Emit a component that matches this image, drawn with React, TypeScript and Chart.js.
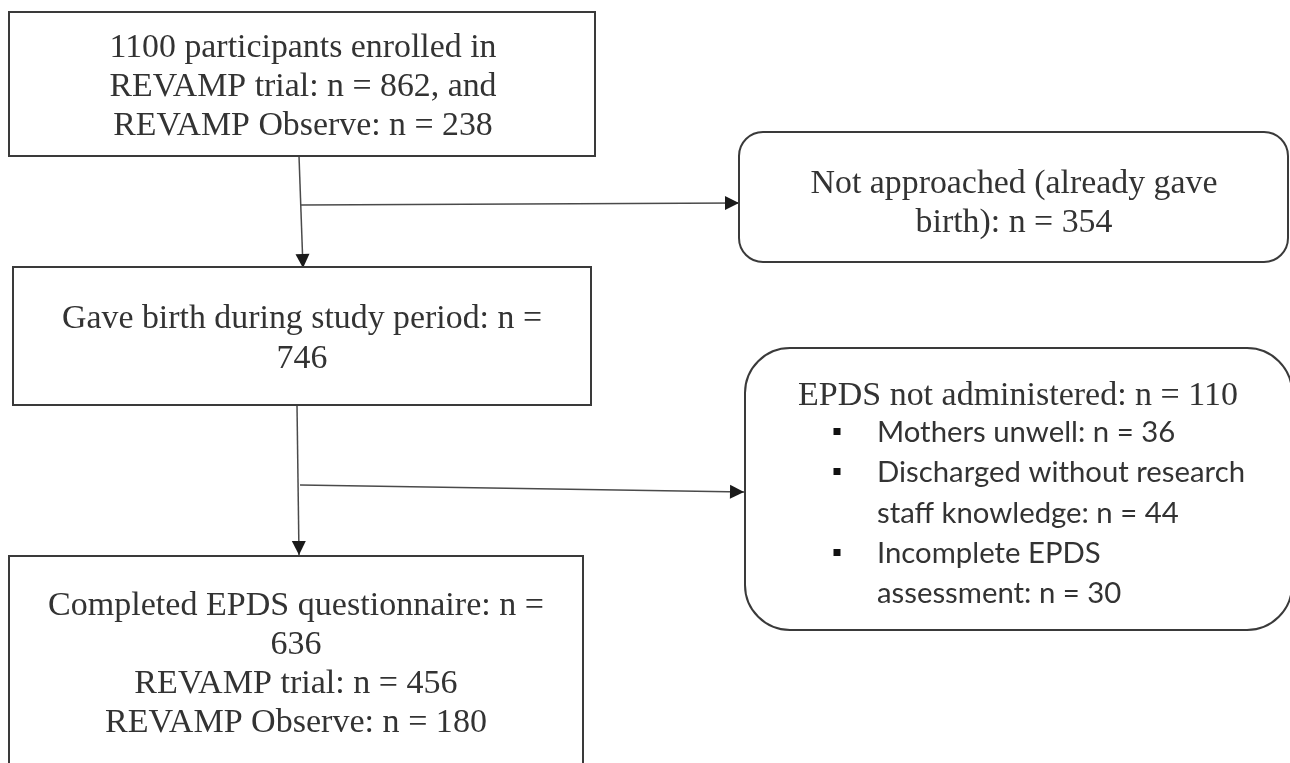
import React, { useEffect, useRef } from "react";
import { Chart, registerables } from "chart.js";

Chart.register(...registerables);

// ---- content ----
const enrolledLines = ["1100 participants enrolled in", "REVAMP trial: n = 862, and", "REVAMP Observe: n = 238"];
const notApproachedLines = ["Not approached (already gave", "birth): n = 354"];
const gaveBirthLines = ["Gave birth during study period: n =", "746"];
const notAdministeredTitle = ["EPDS not administered: n = 110"];
const notAdministeredReasons = [
  ["Mothers unwell: n = 36"],
  ["Discharged without research", "staff knowledge: n = 44"],
  ["Incomplete EPDS", "assessment: n = 30"],
];
const completedLines = ["Completed EPDS questionnaire: n =", "636", "REVAMP trial: n = 456", "REVAMP Observe: n = 180"];

// ---- layout (diagram coordinates on the hidden linear scales) ----
type Box = {
  x0: number; y0: number; x1: number; y1: number; r: number;
  lines: string[]; cx: number; base: number; step: number; fit: number;
};
const boxes: Box[] = [
  { x0: 9, y0: 12, x1: 595, y1: 156, r: 0, lines: enrolledLines, cx: 303, base: 57, step: 39, fit: 387 },
  { x0: 739, y0: 132, x1: 1288, y1: 262, r: 24, lines: notApproachedLines, cx: 1014, base: 193, step: 39, fit: 407 },
  { x0: 13, y0: 267, x1: 591, y1: 405, r: 0, lines: gaveBirthLines, cx: 302, base: 328, step: 40, fit: 480 },
  { x0: 745, y0: 348, x1: 1292, y1: 630, r: 45, lines: notAdministeredTitle, cx: 1018, base: 405, step: 40, fit: 440 },
  { x0: 9, y0: 556, x1: 583, y1: 820, r: 0, lines: completedLines, cx: 296, base: 615, step: 39, fit: 496 },
];
const bulletX = 837;
const bulletTextX = 877;
const bulletBaselines = [[442], [482, 523], [563, 603]];
const bulletFit = 368;

const connectors = [
  { from: { x: 299, y: 156 }, to: { x: 303, y: 268 } },
  { from: { x: 301, y: 205 }, to: { x: 739, y: 203 } },
  { from: { x: 297, y: 405 }, to: { x: 299, y: 555 } },
  { from: { x: 300, y: 485 }, to: { x: 744, y: 492 } },
];

const SERIF = '33.5px "Liberation Serif", "Times New Roman", serif';
const SANS = '28px Lato, "Noto Sans", sans-serif';
const TEXT = "#333333";
const LINE = "#3a3a3a";

const flowPlugin = {
  id: "flow",
  beforeDraw(chart: any) {
    const { ctx, width, height } = chart;
    ctx.save();
    ctx.fillStyle = "#ffffff";
    ctx.fillRect(0, 0, width, height);
    ctx.restore();
  },
  afterDatasetsDraw(chart: any) {
    const ctx = chart.ctx;
    const xs = chart.scales.x;
    const ys = chart.scales.y;
    const px = (v: number) => xs.getPixelForValue(v);
    const py = (v: number) => ys.getPixelForValue(v);

    // arrowheads
    ctx.save();
    ctx.fillStyle = "#1a1a1a";
    connectors.forEach((c) => {
      const x1 = px(c.from.x), y1 = py(c.from.y), x2 = px(c.to.x), y2 = py(c.to.y);
      const a = Math.atan2(y2 - y1, x2 - x1);
      const L = 14, W = 7;
      ctx.beginPath();
      ctx.moveTo(x2, y2);
      ctx.lineTo(x2 - L * Math.cos(a) + W * Math.sin(a), y2 - L * Math.sin(a) - W * Math.cos(a));
      ctx.lineTo(x2 - L * Math.cos(a) - W * Math.sin(a), y2 - L * Math.sin(a) + W * Math.cos(a));
      ctx.closePath();
      ctx.fill();
    });
    ctx.restore();

    // boxes
    boxes.forEach((b) => {
      const x0 = px(b.x0), y0 = py(b.y0), x1 = px(b.x1), y1 = py(b.y1);
      ctx.save();
      ctx.strokeStyle = LINE;
      ctx.lineWidth = 2;
      ctx.beginPath();
      if (b.r > 0) ctx.roundRect(x0, y0, x1 - x0, y1 - y0, b.r);
      else ctx.rect(x0, y0, x1 - x0, y1 - y0);
      ctx.fillStyle = "#ffffff";
      ctx.fill();
      ctx.stroke();
      ctx.restore();

      ctx.save();
      ctx.font = SERIF;
      ctx.fillStyle = TEXT;
      const s = (px(b.fit) - px(0)) / ctx.measureText(b.lines[0]).width;
      b.lines.forEach((ln, i) => {
        ctx.save();
        ctx.translate(px(b.cx), py(b.base + i * b.step));
        ctx.scale(s, 1);
        ctx.textAlign = "center";
        ctx.textBaseline = "alphabetic";
        ctx.fillText(ln, 0, 0);
        ctx.restore();
      });
      ctx.restore();
    });

    // bullet list
    ctx.save();
    ctx.font = SANS;
    ctx.fillStyle = TEXT;
    const s2 = (px(bulletFit) - px(0)) / ctx.measureText(notAdministeredReasons[1][0]).width;
    notAdministeredReasons.forEach((item, i) => {
      const bb = bulletBaselines[i];
      ctx.fillStyle = "#111111";
      ctx.fillRect(px(bulletX) - 3.5, py(bb[0]) - 14, 7, 7);
      ctx.fillStyle = TEXT;
      item.forEach((ln, j) => {
        ctx.save();
        ctx.translate(px(bulletTextX), py(bb[j]));
        ctx.scale(s2, 1);
        ctx.textAlign = "left";
        ctx.textBaseline = "alphabetic";
        ctx.fillText(ln, 0, 0);
        ctx.restore();
      });
    });
    ctx.restore();
  },
};

export default function App() {
  const ref = useRef<HTMLCanvasElement | null>(null);
  useEffect(() => {
    document.body.style.margin = "0";
    document.body.style.overflow = "hidden";
    if (!ref.current) return;
    const chart = new Chart(ref.current, {
      type: "scatter",
      data: {
        datasets: connectors.map((c) => ({
          data: [c.from, c.to],
          showLine: true,
          borderColor: "#4a4a4a",
          borderWidth: 1.5,
          pointRadius: 0,
          pointHoverRadius: 0,
        })),
      },
      options: {
        responsive: false,
        animation: false,
        events: [],
        layout: { padding: 0 },
        scales: {
          x: { type: "linear", min: 0, max: 1290, display: false },
          y: { type: "linear", min: 0, max: 763, reverse: true, display: false },
        },
        plugins: { legend: { display: false }, tooltip: { enabled: false } },
      },
      plugins: [flowPlugin],
    });
    return () => chart.destroy();
  }, []);
  return (
    <div style={{ width: 1290, height: 763, overflow: "hidden" }}>
      <canvas ref={ref} width={1290} height={763} style={{ display: "block" }} />
    </div>
  );
}
